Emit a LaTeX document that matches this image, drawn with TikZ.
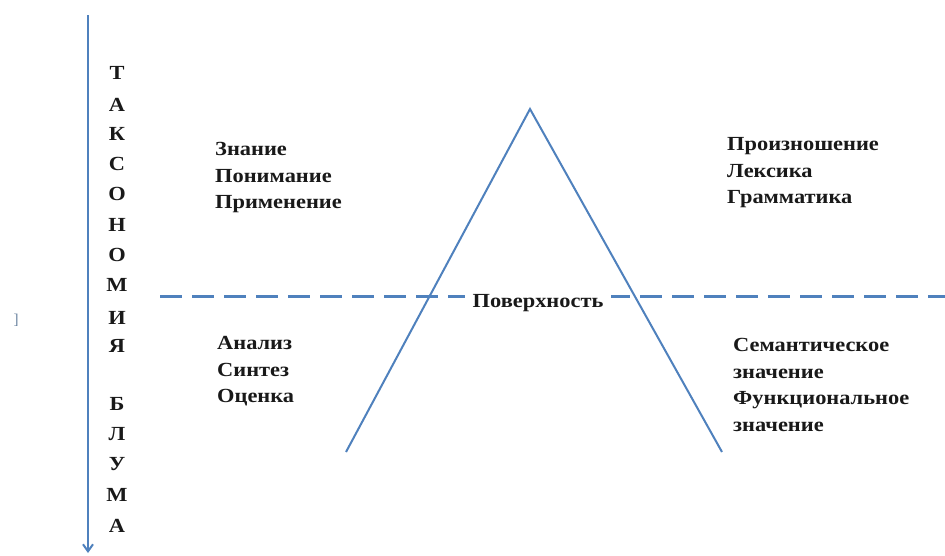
\documentclass[tikz,border=0pt]{standalone}
\usepackage{fontspec}
\setmainfont{Liberation Serif}
\newfontfamily\widefont[FakeStretch=1.12]{Liberation Serif}
\usetikzlibrary{arrows.meta}
\definecolor{axisblue}{RGB}{79,129,189}
\definecolor{txt}{RGB}{25,25,25}
\tikzset{
  blueline/.style={draw=axisblue, line width=2pt},
  lbl/.style={font=\widefont\bfseries\fontsize{20}{26.7}\selectfont, text=txt, align=left, anchor=north west, inner sep=0pt},
  letter/.style={font=\widefont\bfseries\fontsize{20}{20}\selectfont, text=txt, inner sep=0pt},
}
\begin{document}
\begin{tikzpicture}[x=1pt,y=-1pt]
\useasboundingbox[fill=white] (0,0) rectangle (945,555);
% axis
\coordinate (axtop) at (88,15);
\coordinate (axbot) at (88,553);
\draw[blueline, -{Straight Barb[length=7pt,width=10pt]}] (axtop) -- (axbot);
% vertical letters
\foreach \ch/\yy [count=\i] in {Т/73,А/105,К/134,С/164,О/194,Н/225,О/255,М/285,И/318,Я/346,Б/404,Л/434,У/464,М/495,А/526}{
  \node[letter] (L\i) at (117,\yy) {\ch};
}
% stray mark
\node[font=\fontsize{15}{15}\selectfont, text=axisblue!50!gray, inner sep=0pt] (mark) at (16,320) {]};
% dashed surface line
\coordinate (dl) at (160,296);
\coordinate (dr) at (945,296);
\draw[draw=axisblue, line width=3pt, dash pattern=on 22pt off 10pt] (dl) -- (dr);
% triangle
\coordinate (apex) at (530,109);
\coordinate (bl) at (346,452);
\coordinate (br) at (722,452);
\draw[blueline, line join=miter] (bl) -- (apex) -- (br);
% surface label
\node[font=\widefont\bfseries\fontsize{20}{20}\selectfont, text=txt, fill=white, inner xsep=8pt, inner ysep=2pt] (surf) at (538,303) {Поверхность};
% text blocks
\node[lbl] (lt) at (215,142) {Знание\\Понимание\\Применение};
\node[lbl] (lb) at (217,336) {Анализ\\Синтез\\Оценка};
\node[lbl] (rt) at (727,137) {Произношение\\Лексика\\Грамматика};
\node[lbl] (rb) at (733,338) {Семантическое\\значение\\Функциональное\\значение};
\end{tikzpicture}
\end{document}
